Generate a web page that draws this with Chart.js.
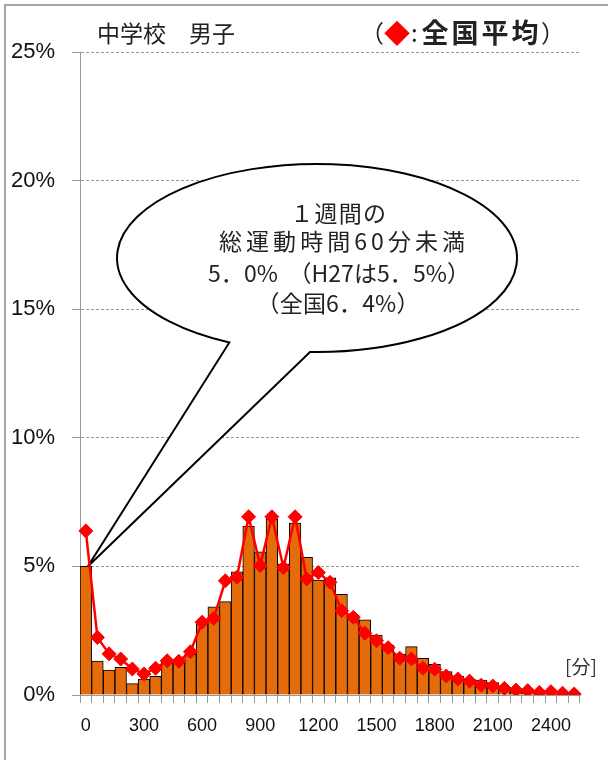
<!DOCTYPE html>
<html><head><meta charset="utf-8">
<script src="https://cdn.jsdelivr.net/npm/chart.js@4"></script>
<style>html,body{margin:0;padding:0;background:#fff}#wrap{width:608px;height:760px;position:relative}</style>
</head><body><div id="wrap"><canvas id="c" width="608" height="760"></canvas></div>
<script>
// Weekly total exercise time (minutes), one bar per 60-minute class
const categories = [0,60,120,180,240,300,360,420,480,540,600,660,720,780,840,900,960,1020,1080,1140,1200,1260,1320,1380,1440,1500,1560,1620,1680,1740,1800,1860,1920,1980,2040,2100,2160,2220,2280,2340,2400,2460,2520];
// Prefecture share (%), bars
const prefValues = [5.0,1.32,0.97,1.08,0.44,0.62,0.73,1.31,1.25,1.58,2.85,3.43,3.63,4.79,6.57,5.57,6.83,5.09,6.68,5.35,4.47,4.56,3.91,3.11,2.92,2.33,1.94,1.59,1.88,1.43,1.19,0.91,0.74,0.61,0.58,0.48,0.30,0.22,0.15,0.12,0.10,0.06,0.05];
// National average share (%), red diamonds
const nationalValues = [6.38,2.24,1.60,1.40,1.01,0.82,1.04,1.33,1.31,1.68,2.83,2.98,4.44,4.58,6.93,5.03,6.93,4.95,6.93,4.51,4.76,4.38,3.28,3.02,2.40,2.11,1.84,1.43,1.40,1.04,1.00,0.74,0.62,0.54,0.38,0.35,0.26,0.19,0.17,0.10,0.13,0.07,0.04];
const xTickLabels = ['0','300','600','900','1200','1500','1800','2100','2400'];
const yTickValues = [0,5,10,15,20,25];
const titleText = '中学校　男子';
const calloutLines = ['１週間の','総運動時間60分未満','5．0%  （H27は5．5%）','（全国6．4%）'];

const JP = '"Noto Sans CJK JP", sans-serif';
function spacedText(c, text, cx, y, width){
  c.letterSpacing = '0px';
  const w = c.measureText(text).width;
  const n = [...text].length;
  const ls = Math.max(0, (width - w) / n);
  c.letterSpacing = ls + 'px';
  const real = w + ls * n;
  c.textAlign = 'left';
  c.fillText(text, cx - real/2 + ls/2, y);
  c.letterSpacing = '0px';
}
const deco = {
  id:'deco',
  beforeDraw(chart){
    const c = chart.ctx; c.save(); c.fillStyle='#fff'; c.fillRect(0,0,chart.width,chart.height); c.restore();
  },
  beforeDatasetsDraw(chart){
    const c = chart.ctx;
    const ax = chart.scales.x.getPixelForValue(0) + 2;
    const ay = chart.scales.y.getPixelForValue(prefValues[0]);
    const cx=317, cy=258, rx=200, ry=94;
    const t1 = 116*Math.PI/180, t2 = 92*Math.PI/180;
    c.save();
    c.beginPath();
    c.ellipse(cx,cy,rx,ry,0,t1,t2,false);
    c.lineTo(ax,ay);
    c.closePath();
    c.fillStyle='#fff'; c.fill();
    c.lineWidth=2; c.strokeStyle='#000'; c.lineJoin='miter'; c.stroke();
    c.fillStyle='#222';
    c.font = '23px '+JP;
    c.textBaseline='middle';
    const ys=[213,241,273,303];
    const ws=[97,250,262,163];
    const xs=[338,342,339,338];
    calloutLines.forEach((t,i)=>{ spacedText(c,t,xs[i],ys[i],ws[i]); });
    c.restore();
  },
  afterDraw(chart){
    const c = chart.ctx;
    c.save();
    // frame
    c.strokeStyle='#a6a6a6'; c.lineWidth=2;
    c.beginPath(); c.moveTo(5,760); c.lineTo(5,5); c.lineTo(608,5); c.stroke();
    // title
    c.fillStyle='#222'; c.textBaseline='middle'; c.textAlign='left';
    c.font='23px '+JP;
    c.fillText(titleText,97,33);
    // legend
    c.font='24px '+JP; c.fillStyle='#222';
    c.fillText('（',360,33);
    c.fillStyle='#ff0000'; c.font='26px '+JP; c.fillText('◆',384,33);
    c.fillStyle='#222'; c.font='24px '+JP; c.fillText(':',411,33);
    c.font='bold 27px '+JP; spacedText(c,'全国平均',480,33,120);
    c.font='24px '+JP; c.textAlign='left'; c.fillText('）',541,33);
    // unit
    c.font='19px '+JP; c.fillStyle='#333';
    c.fillText('[分]',565,667);
    c.restore();
  }
};

new Chart(document.getElementById('c'), {
  data: {
    labels: categories,
    datasets: [
      {type:'line', data: nationalValues, borderColor:'#ff0000', borderWidth:2.5, pointStyle:'rectRot', pointRadius:7, pointBackgroundColor:'#ff0000', pointBorderColor:'#ff0000', pointBorderWidth:1, tension:0, order:0},
      {type:'bar', data: prefValues, backgroundColor:'#e46c0a', borderColor:'#000', borderWidth:1, barPercentage:1, categoryPercentage:1, order:1}
    ]
  },
  options: {
    responsive:false, animation:false, devicePixelRatio:1,
    layout:{padding:{left:0,right:28,top:52,bottom:0}},
    plugins:{legend:{display:false}, tooltip:{enabled:false}},
    scales:{
      x:{ type:'category', offset:true,
        grid:{offset:true, drawOnChartArea:false, drawTicks:true, tickLength:8, color:'#999'},
        border:{color:'#999', width:1},
        ticks:{autoSkip:false, maxRotation:0, minRotation:0, padding:12, color:'#111',
          font:{family:'"Liberation Sans", sans-serif', size:18},
          callback:(v,i)=> xTickLabels.includes(String(categories[i])) ? String(categories[i]) : ''},
        afterFit: s=>{ s.height=65; } },
      y:{ min:0, max:25,
        afterBuildTicks: s=>{ s.ticks = yTickValues.map(v=>({value:v})); },
        ticks:{ padding:17, color:'#111', font:{family:'"Liberation Sans", sans-serif', size:22}, callback:v=> v+'%'},
        grid:{color:'#999', tickLength:8},
        border:{color:'#999', dash:[3,2]},
        afterFit: s=>{ s.width=80; } }
    }
  },
  plugins:[deco]
});
</script></body></html>
